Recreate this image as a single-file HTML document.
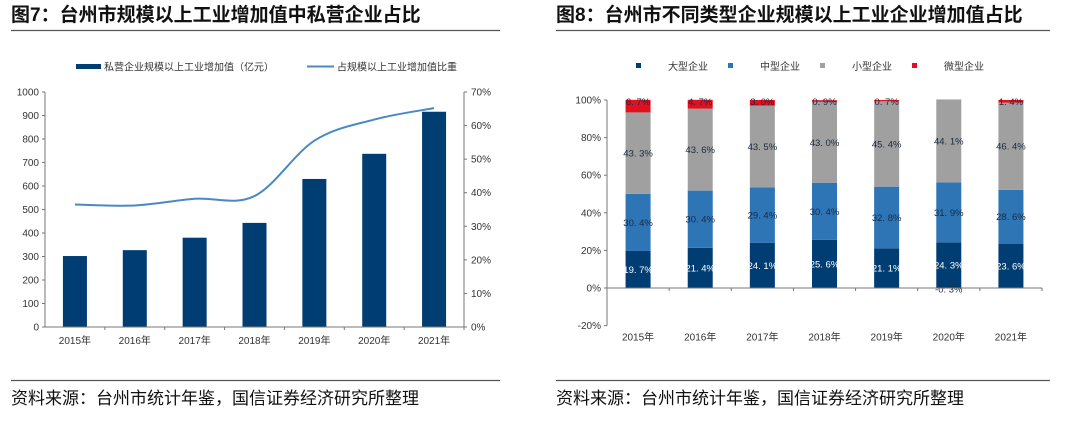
<!DOCTYPE html>
<html><head><meta charset="utf-8"><style>
body{margin:0;background:#fff;}
svg{display:block;font-family:"Liberation Sans","Noto Sans CJK SC",sans-serif;}
</style></head><body>
<svg id="svg" width="1080" height="422" viewBox="0 0 1080 422">
<text x="11" y="21" font-size="19" font-weight="bold" fill="#111">图7：台州市规模以上工业增加值中私营企业占比</text>
<line x1="11" y1="30.5" x2="500" y2="30.5" stroke="#555" stroke-width="1.2"/>
<text x="556" y="21" font-size="19" font-weight="bold" fill="#111">图8：台州市不同类型企业规模以上工业企业增加值占比</text>
<line x1="556" y1="30.5" x2="1050" y2="30.5" stroke="#555" stroke-width="1.2"/>
<line x1="11" y1="380.5" x2="500" y2="380.5" stroke="#555" stroke-width="1.2"/>
<text x="11" y="404" font-size="17" fill="#111">资料来源：台州市统计年鉴，国信证券经济研究所整理</text>
<line x1="556" y1="380.5" x2="1050" y2="380.5" stroke="#555" stroke-width="1.2"/>
<text x="556" y="404" font-size="17" fill="#111">资料来源：台州市统计年鉴，国信证券经济研究所整理</text>
<g id="c1"></g><g id="c2"></g>
</svg>
<script>
const years=["2015年","2016年","2017年","2018年","2019年","2020年","2021年"];
const privateValue=[302,327,380,443,630,737,916];
const privateShare=[36.5,36.2,38.2,39.0,55.5,61.8,65.2];
const leftTicks=[0,100,200,300,400,500,600,700,800,900,1000];
const rightTicks=[0,10,20,30,40,50,60,70];
const largeShare=[19.7,21.4,24.1,25.6,21.1,24.3,23.6];
const mediumShare=[30.4,30.4,29.4,30.4,32.8,31.9,28.6];
const smallShare=[43.3,43.6,43.5,43.0,45.4,44.1,46.4];
const microShare=[6.7,4.7,3.0,0.9,0.7,-0.3,1.4];
const pctTicks=[-20,0,20,40,60,80,100];

const NS="http://www.w3.org/2000/svg";
function mk(p,t,a){const e=document.createElementNS(NS,t);for(const k in a)e.setAttribute(k,a[k]);p.appendChild(e);return e;}

// Chart 1
const c1=document.getElementById('c1');
const x0=45,x1=464,yb=327,yt=92;
const bw=(x1-x0)/years.length;
const xc=i=>x0+bw*(i+0.5);
const yL=v=>yb-(v/1000)*(yb-yt);
const yR=v=>yb-(v/70)*(yb-yt);
let e;
privateValue.forEach((v,i)=>{
 e=mk(c1,'rect',{x:xc(i)-12,y:yL(v),width:24,height:yb-yL(v),fill:'#003d72'});
 
 
});
e=mk(c1,'line',{x1:x0,y1:yt,x2:x0,y2:yb,stroke:'#777'});

e=mk(c1,'line',{x1:x1,y1:yt,x2:x1,y2:yb,stroke:'#777'});

e=mk(c1,'line',{x1:x0,y1:yb,x2:x1,y2:yb,stroke:'#777'});

leftTicks.forEach(v=>{
 mk(c1,'line',{x1:x0-3,y1:yL(v),x2:x0,y2:yL(v),stroke:'#777'});
 e=mk(c1,'text',{x:x0-6,y:yL(v)+3.5,'font-size':10,'text-anchor':'end',fill:'#333'});e.textContent=v;
 
});
rightTicks.forEach(v=>{
 mk(c1,'line',{x1:x1,y1:yR(v),x2:x1+3,y2:yR(v),stroke:'#777'});
 e=mk(c1,'text',{x:x1+7,y:yR(v)+3.5,'font-size':10,fill:'#333'});e.textContent=v+'%';
 
});
years.forEach((y,i)=>{
 mk(c1,'line',{x1:x0+bw*(i+1),y1:yb,x2:x0+bw*(i+1),y2:yb+3,stroke:'#777'});
 e=mk(c1,'text',{x:xc(i),y:yb+17,'font-size':10,'text-anchor':'middle',fill:'#333'});e.textContent=y;
 
});
const pts=privateShare.map((v,i)=>[xc(i),yR(v)]);
let d='M'+pts[0][0]+','+pts[0][1];
for(let i=0;i<pts.length-1;i++){
 const p0=pts[Math.max(0,i-1)],p1=pts[i],p2=pts[i+1],p3=pts[Math.min(pts.length-1,i+2)];
 const t=6;
 d+=` C${p1[0]+(p2[0]-p0[0])/t},${p1[1]+(p2[1]-p0[1])/t} ${p2[0]-(p3[0]-p1[0])/t},${p2[1]-(p3[1]-p1[1])/t} ${p2[0]},${p2[1]}`;
}
e=mk(c1,'path',{d:d,fill:'none',stroke:'#4a89c4','stroke-width':2});

e=mk(c1,'rect',{x:76,y:64,width:25,height:5,fill:'#003d72'});

e=mk(c1,'text',{x:104,y:70.5,'font-size':10,fill:'#333'});e.textContent='私营企业规模以上工业增加值（亿元）';

e=mk(c1,'line',{x1:307,y1:66.5,x2:334,y2:66.5,stroke:'#4a89c4','stroke-width':2});

e=mk(c1,'text',{x:337,y:70.5,'font-size':10,fill:'#333'});e.textContent='占规模以上工业增加值比重';


// Chart 2
const c2=document.getElementById('c2');
const X0=607,X1=1042,Y100=100,Y0=288;
const BW=(X1-X0)/years.length;
const XC=i=>X0+BW*(i+0.5);
const Y=v=>Y0-(v/100)*(Y0-Y100);
const series=[[largeShare,'#003d72','large','#fff'],[mediumShare,'#2e75b6','medium','#1a2a40'],[smallShare,'#a0a0a0','small','#1a2a40'],[microShare,'#e0101e','micro','#1a2a40']];
years.forEach((y,i)=>{
 let cum=0;
 series.forEach(([arr,col,nm,tc])=>{
  const v=arr[i];
  let top,bot;
  if(v>=0){bot=cum;top=cum+v;cum+=v;}else{top=0;bot=v;}
  e=mk(c2,'rect',{x:XC(i)-12.5,y:Y(top),width:25,height:Math.max(0,Y(bot)-Y(top)),fill:col});
  
  const ly=v>=0?(nm==='micro'?Y(top)+5:(Y(top)+Y(bot))/2+3.5):Y(bot)+4;
  e=mk(c2,'text',{x:XC(i),y:ly,'font-size':9.5,'text-anchor':'middle',fill:tc});
  e.textContent=Math.abs(v).toFixed(1).replace('.','. ')+'%';
  if(v<0)e.textContent='-'+e.textContent;
  
 });
});
e=mk(c2,'line',{x1:X0,y1:Y(100),x2:X0,y2:Y(-20),stroke:'#777'});

e=mk(c2,'line',{x1:X0,y1:Y0,x2:X1,y2:Y0,stroke:'#777'});

pctTicks.forEach(v=>{
 mk(c2,'line',{x1:X0-3,y1:Y(v),x2:X0,y2:Y(v),stroke:'#777'});
 e=mk(c2,'text',{x:X0-6,y:Y(v)+3.5,'font-size':10,'text-anchor':'end',fill:'#333'});e.textContent=v+'%';
 
});
years.forEach((y,i)=>{
 mk(c2,'line',{x1:X0+BW*(i+1),y1:Y0,x2:X0+BW*(i+1),y2:Y0+3,stroke:'#777'});
 e=mk(c2,'text',{x:XC(i),y:Y(-20)+15,'font-size':10,'text-anchor':'middle',fill:'#333'});e.textContent=y;
 
});
const legNames=['大型企业','中型企业','小型企业','微型企业'];
legNames.forEach((n,k)=>{
 const lx=636+k*92;
 e=mk(c2,'rect',{x:lx,y:63,width:5,height:5,fill:series[k][1]});
 
 e=mk(c2,'text',{x:lx+32,y:70,'font-size':10,fill:'#333'});e.textContent=n;
 
});
</script>
</body></html>
